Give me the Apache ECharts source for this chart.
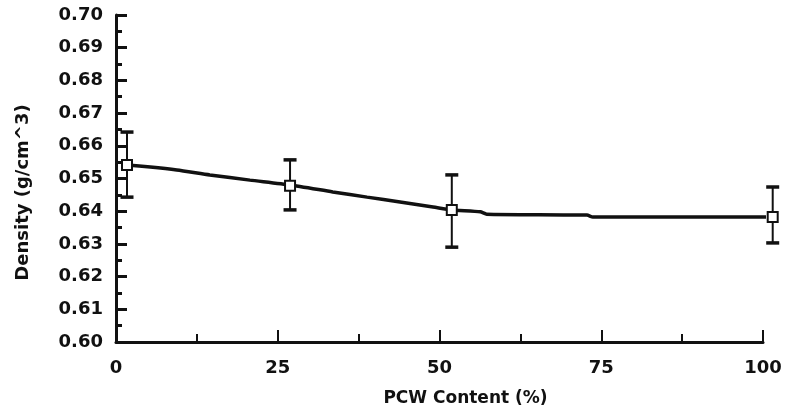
<!DOCTYPE html>
<html>
<head>
<meta charset="utf-8">
<script src="https://cdn.jsdelivr.net/npm/echarts@6/dist/echarts.min.js"></script>
<style>
  html, body { margin: 0; padding: 0; background: #fff; }
  #main { width: 787px; height: 419px; }
</style>
</head>
<body>
<div id="main"></div>
<script>
// measured points (PCW content %, density)
var pcw = [1.7, 26.9, 51.9, 101.5];
var density = [0.6541, 0.6478, 0.6404, 0.6382];
var errLow = [0.6443, 0.6404, 0.6290, 0.6303];
var errHigh = [0.6642, 0.6557, 0.6511, 0.6474];

// fitted curve drawn through the points
var curveX = [1.7, 5.3, 9.4, 14.5, 20.7, 26.9, 33.5, 38.8, 43.9, 49.0, 51.8, 56.3, 57.3, 72.8, 73.7, 100.6, 101.5];
var curveY = [0.6541, 0.6535, 0.6526, 0.6511, 0.6495, 0.6480, 0.6459, 0.6443, 0.6428, 0.6413, 0.6404, 0.6398, 0.6391, 0.6388, 0.6382, 0.6382, 0.6382];

var ink = '#111';
var font = 'DejaVu Sans';

var chartDom = document.getElementById('main');
var myChart = echarts.init(chartDom);

var option = {
  animation: false,
  grid: { left: 116, right: 24, top: 15, bottom: 77 },
  xAxis: {
    type: 'value',
    min: 0,
    max: 100,
    interval: 25,
    name: 'PCW Content (%)',
    nameLocation: 'middle',
    nameGap: 48,
    nameTextStyle: { color: ink, fontFamily: font, fontWeight: 'bold', fontSize: 17, padding: [0, 0, 0, 52] },
    axisLine: { lineStyle: { color: ink, width: 3 } },
    axisTick: { inside: true, length: 12, lineStyle: { color: ink, width: 2 } },
    minorTick: { show: true, splitNumber: 2, length: 8, lineStyle: { color: ink, width: 2 } },
    axisLabel: { color: ink, fontFamily: font, fontWeight: 'bold', fontSize: 18, margin: 17 },
    splitLine: { show: false }
  },
  yAxis: {
    type: 'value',
    min: 0.6,
    max: 0.7,
    interval: 0.01,
    name: 'Density (g/cm^3)',
    nameLocation: 'middle',
    nameGap: 84,
    nameTextStyle: { color: ink, fontFamily: font, fontWeight: 'bold', fontSize: 18, padding: [0, 28, 0, 0] },
    axisLine: { show: true, lineStyle: { color: ink, width: 3 } },
    axisTick: { inside: true, length: 11, lineStyle: { color: ink, width: 3 } },
    minorTick: { show: true, splitNumber: 2, length: 6, lineStyle: { color: ink, width: 3 } },
    axisLabel: {
      color: ink, fontFamily: font, fontWeight: 'bold', fontSize: 18, margin: 13,
      formatter: function (v) { return v.toFixed(2); }
    },
    splitLine: { show: false }
  },
  series: [
    {
      name: 'Fit',
      type: 'line',
      data: curveX.map(function (x, i) { return [x, curveY[i]]; }),
      showSymbol: false,
      smooth: 0.2,
      clip: false,
      lineStyle: { color: ink, width: 3.5 },
      z: 2
    },
    {
      name: 'Error',
      type: 'custom',
      clip: false,
      data: pcw.map(function (x, i) { return [x, errLow[i], errHigh[i]]; }),
      renderItem: function (params, api) {
        var lo = api.coord([api.value(0), api.value(1)]);
        var hi = api.coord([api.value(0), api.value(2)]);
        var hw = 6.5;
        return {
          type: 'group',
          children: [
            { type: 'line', shape: { x1: lo[0], y1: lo[1], x2: hi[0], y2: hi[1] }, style: { stroke: ink, lineWidth: 2 } },
            { type: 'line', shape: { x1: lo[0] - hw, y1: lo[1], x2: lo[0] + hw, y2: lo[1] }, style: { stroke: ink, lineWidth: 3.5 } },
            { type: 'line', shape: { x1: hi[0] - hw, y1: hi[1], x2: hi[0] + hw, y2: hi[1] }, style: { stroke: ink, lineWidth: 3.5 } }
          ]
        };
      },
      z: 3
    },
    {
      name: 'Density',
      type: 'scatter',
      clip: false,
      data: pcw.map(function (x, i) { return [x, density[i]]; }),
      symbol: 'rect',
      symbolSize: 10,
      itemStyle: { color: '#fff', borderColor: ink, borderWidth: 2, opacity: 1 },
      z: 4
    }
  ]
};

option && myChart.setOption(option);
</script>
</body>
</html>
